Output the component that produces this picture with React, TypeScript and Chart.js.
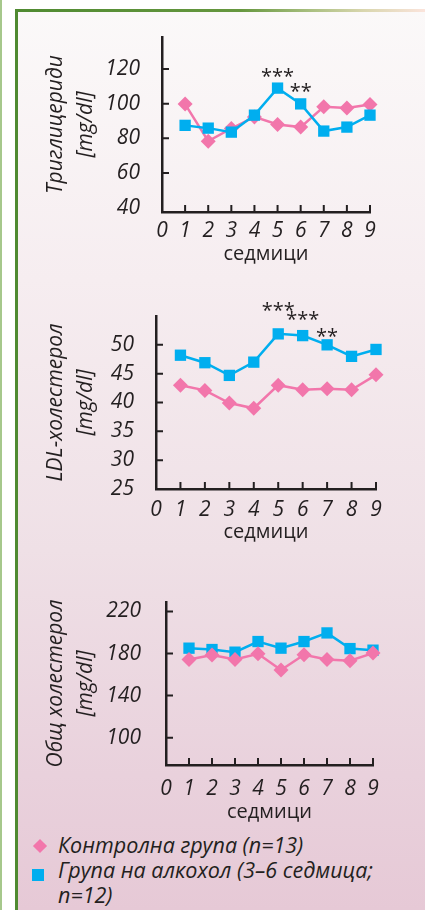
import React, { useEffect, useRef } from "react";
import { Chart, registerables } from "chart.js";

Chart.register(...registerables);

// ---------- data ----------
const weeks = [1, 2, 3, 4, 5, 6, 7, 8, 9];
const weekTicks = [0, 1, 2, 3, 4, 5, 6, 7, 8, 9];
const xTitle = "седмици";

const trigControl = [99.8, 78.4, 85.7, 92.4, 88.0, 86.5, 98.2, 97.5, 99.6];
const trigAlcohol = [87.5, 85.9, 83.6, 93.4, 109.0, 99.9, 84.2, 86.5, 93.4];
const trigTicks = [40, 60, 80, 100, 120];
const trigTitle = ["Триглицериди", "[mg/dl]"];
const trigStarWeeks = [5, 6];
const trigStarTexts = ["***", "**"];
const trigStarValues = [118.3, 109.3];

const ldlControl = [43.0, 42.1, 39.9, 39.0, 43.0, 42.2, 42.4, 42.2, 44.8];
const ldlAlcohol = [48.2, 46.9, 44.7, 47.0, 51.9, 51.6, 50.0, 48.0, 49.2];
const ldlTicks = [25, 30, 35, 40, 45, 50];
const ldlTitle = ["LDL-холестерол", "[mg/dl]"];
const ldlStarWeeks = [5, 6, 7];
const ldlStarTexts = ["***", "***", "**"];
const ldlStarValues = [56.7, 55.1, 52.2];

const cholControl = [174.3, 178.5, 174.3, 179.7, 164.3, 178.8, 174.3, 173.1, 180.4];
const cholAlcohol = [185.1, 183.8, 181.3, 191.4, 185.1, 191.4, 199.6, 184.7, 183.2];
const cholTicks = [100, 140, 180, 220];
const cholTitle = ["Общ холестерол", "[mg/dl]"];

const legendControl = "Контролна група (n=13)";
const legendAlcohol = ["Група на алкохол (3–6 седмица;", "n=12)"];

// ---------- styles ----------
const PINK = "#f276ab";
const BLUE = "#00aeef";
const AXIS = "#231f20";
const FONT = "'Open Sans', 'Noto Sans', sans-serif";
const W = 425;
const TICK_SIZE = 21;
const TITLE_SIZE = 21;

const inTicks = {
  id: "inTicks",
  beforeDatasetsDraw(chart: any) {
    const { ctx, chartArea } = chart;
    const xs = chart.scales.x;
    const ys = chart.scales.y;
    ctx.save();
    ctx.strokeStyle = AXIS;
    ctx.lineWidth = 2;
    ctx.beginPath();
    ys.ticks.forEach((t: any) => {
      const py = ys.getPixelForValue(t.value);
      if (Math.abs(py - chartArea.bottom) < 6) return;
      ctx.moveTo(chartArea.left, py);
      ctx.lineTo(chartArea.left + 7, py);
    });
    xs.ticks.forEach((t: any) => {
      if (t.value === xs.min) return;
      const px = xs.getPixelForValue(t.value);
      ctx.moveTo(px, chartArea.bottom);
      ctx.lineTo(px, chartArea.bottom - 7);
    });
    ctx.stroke();
    ctx.restore();
  },
};

const stars = {
  id: "stars",
  afterDatasetsDraw(chart: any, _args: any, opts: any) {
    if (!opts || !opts.weeks) return;
    const { ctx } = chart;
    const xs = chart.scales.x;
    const ys = chart.scales.y;
    ctx.save();
    ctx.fillStyle = AXIS;
    ctx.font = "20px " + FONT;
    ctx.textAlign = "center";
    ctx.textBaseline = "alphabetic";
    opts.weeks.forEach((w: number, i: number) => {
      const txt = opts.texts[i];
      const m = ctx.measureText(txt);
      const px = xs.getPixelForValue(w);
      const py = ys.getPixelForValue(opts.values[i]);
      const off = (m.actualBoundingBoxAscent - m.actualBoundingBoxDescent) / 2;
      ctx.fillText(txt, px, py + off);
    });
    ctx.restore();
  },
};

type PanelProps = {
  top: number;
  height: number;
  plotLeft: number;
  plotRight: number;
  plotTop: number;
  plotBottom: number;
  control: number[];
  alcohol: number[];
  yMin: number;
  yMax: number;
  yTicks: number[];
  yTitle: string[];
  starWeeks?: number[];
  starTexts?: string[];
  starValues?: number[];
  alcoholOnTop: boolean;
  xLabelPad: number;
  xTitlePad: number;
  yLabelPad: number;
};

function Panel(p: PanelProps) {
  const ref = useRef<HTMLCanvasElement | null>(null);
  useEffect(() => {
    if (!ref.current) return;
    const chart = new Chart(ref.current, {
      type: "line",
      data: {
        datasets: [
          {
            label: legendControl,
            data: weeks.map((w, i) => ({ x: w, y: p.control[i] })),
            borderColor: PINK,
            backgroundColor: PINK,
            pointBackgroundColor: PINK,
            pointBorderColor: PINK,
            pointStyle: "rectRot",
            pointRadius: 7.5,
            pointBorderWidth: 0,
            borderWidth: 2.5,
            tension: 0,
            clip: false,
            order: p.alcoholOnTop ? 2 : 1,
          } as any,
          {
            label: legendAlcohol.join(" "),
            data: weeks.map((w, i) => ({ x: w, y: p.alcohol[i] })),
            borderColor: BLUE,
            backgroundColor: BLUE,
            pointBackgroundColor: BLUE,
            pointBorderColor: BLUE,
            pointStyle: "rect",
            pointRadius: 8,
            pointBorderWidth: 0,
            borderWidth: 2.5,
            tension: 0,
            clip: false,
            order: p.alcoholOnTop ? 1 : 2,
          } as any,
        ],
      },
      options: {
        responsive: false,
        animation: false,
        events: [],
        layout: {
          padding: { left: 0, right: W - p.plotRight, top: p.plotTop - p.top, bottom: 0 },
        },
        scales: {
          x: {
            type: "linear",
            min: 0,
            max: 9,
            afterBuildTicks: (ax: any) => {
              ax.ticks = weekTicks.map((v) => ({ value: v }));
            },
            afterFit: (s: any) => {
              s.height = p.top + p.height - p.plotBottom;
            },
            grid: { display: false },
            border: { display: true, color: AXIS, width: 2.5 },
            ticks: {
              autoSkip: false,
              maxRotation: 0,
              padding: p.xLabelPad,
              color: AXIS,
              font: { family: FONT, style: "italic", size: TICK_SIZE },
              callback: (v: any) => String(v),
            },
            title: {
              display: true,
              text: xTitle,
              color: AXIS,
              font: { family: FONT, size: 20 },
              padding: { top: 0, bottom: p.xTitlePad },
            },
          },
          y: {
            type: "linear",
            min: p.yMin,
            max: p.yMax,
            afterBuildTicks: (ax: any) => {
              ax.ticks = p.yTicks.map((v) => ({ value: v }));
            },
            afterFit: (s: any) => {
              s.width = p.plotLeft;
            },
            grid: { display: false },
            border: { display: true, color: AXIS, width: 2.5 },
            ticks: {
              padding: p.yLabelPad,
              color: AXIS,
              font: { family: FONT, style: "italic", size: TICK_SIZE },
              callback: (v: any) => String(v),
            },
            title: {
              display: true,
              text: p.yTitle,
              color: AXIS,
              font: { family: FONT, style: "italic", size: TITLE_SIZE, lineHeight: "30px" },
              padding: { top: 41, bottom: 0 },
            },
          },
        },
        plugins: {
          legend: { display: false },
          tooltip: { enabled: false },
          stars: p.starWeeks
            ? { weeks: p.starWeeks, texts: p.starTexts, values: p.starValues }
            : {},
        } as any,
      },
      plugins: [inTicks, stars],
    } as any);
    return () => chart.destroy();
  }, []);
  return (
    <canvas
      ref={ref}
      width={W}
      height={p.height}
      style={{ position: "absolute", left: 0, top: p.top, width: W, height: p.height }}
    />
  );
}

export default function App() {
  return (
    <div
      style={{
        position: "fixed",
        left: 0,
        top: 0,
        width: W,
        height: 910,
        overflow: "hidden",
        background: "#ffffff",
        fontFamily: FONT,
      }}
    >
      <div style={{ position: "absolute", left: 0, top: 0, width: 2, height: 910, background: "#a6c88c" }} />
      <div
        style={{
          position: "absolute",
          left: 15,
          top: 9,
          right: 0,
          bottom: 0,
          background:
            "linear-gradient(to bottom, #fbf9f9 0%, #f6edf0 30%, #efe0e6 60%, #e9d1dc 85%, #e6c9d6 100%)",
        }}
      />
      <div style={{ position: "absolute", left: 15, top: 9, width: 3, bottom: 0, background: "#4f8a31" }} />
      <div
        style={{
          position: "absolute",
          left: 15,
          top: 9,
          right: 0,
          height: 3,
          background:
            "linear-gradient(to right, #4f8a31 0%, #66973f 55%, #a9bf80 72%, #d9d6ae 85%, #fbe4dc 100%)",
        }}
      />
      <Panel
        top={5}
        height={265}
        plotLeft={162}
        plotRight={370}
        plotTop={37}
        plotBottom={212}
        control={trigControl}
        alcohol={trigAlcohol}
        yMin={37.5}
        yMax={138.5}
        yTicks={trigTicks}
        yTitle={trigTitle}
        starWeeks={trigStarWeeks}
        starTexts={trigStarTexts}
        starValues={trigStarValues}
        alcoholOnTop={true}
        xLabelPad={-2}
        xTitlePad={4}
        yLabelPad={14}
      />
      <Panel
        top={280}
        height={270}
        plotLeft={156}
        plotRight={376}
        plotTop={316}
        plotBottom={489}
        control={ldlControl}
        alcohol={ldlAlcohol}
        yMin={25}
        yMax={55}
        yTicks={ldlTicks}
        yTitle={ldlTitle}
        starWeeks={ldlStarWeeks}
        starTexts={ldlStarTexts}
        starValues={ldlStarValues}
        alcoholOnTop={true}
        xLabelPad={0}
        xTitlePad={5.4}
        yLabelPad={14}
      />
      <Panel
        top={570}
        height={260}
        plotLeft={166}
        plotRight={373}
        plotTop={602}
        plotBottom={765}
        control={cholControl}
        alcohol={cholAlcohol}
        yMin={74}
        yMax={229}
        yTicks={cholTicks}
        yTitle={cholTitle}
        alcoholOnTop={false}
        xLabelPad={3}
        xTitlePad={6}
        yLabelPad={17}
      />
      <div
        style={{
          position: "absolute",
          left: 35,
          top: 841,
          width: 10,
          height: 10,
          background: PINK,
          transform: "rotate(45deg)",
        }}
      />
      <div style={{ position: "absolute", left: 32, top: 869, width: 12, height: 12, background: BLUE }} />
      <div
        style={{
          position: "absolute",
          left: 58,
          top: 832,
          fontStyle: "italic",
          fontSize: 21.5,
          lineHeight: "25px",
          color: AXIS,
          whiteSpace: "nowrap",
        }}
      >
        <div>{legendControl}</div>
        <div>{legendAlcohol[0]}</div>
        <div>{legendAlcohol[1]}</div>
      </div>
    </div>
  );
}
